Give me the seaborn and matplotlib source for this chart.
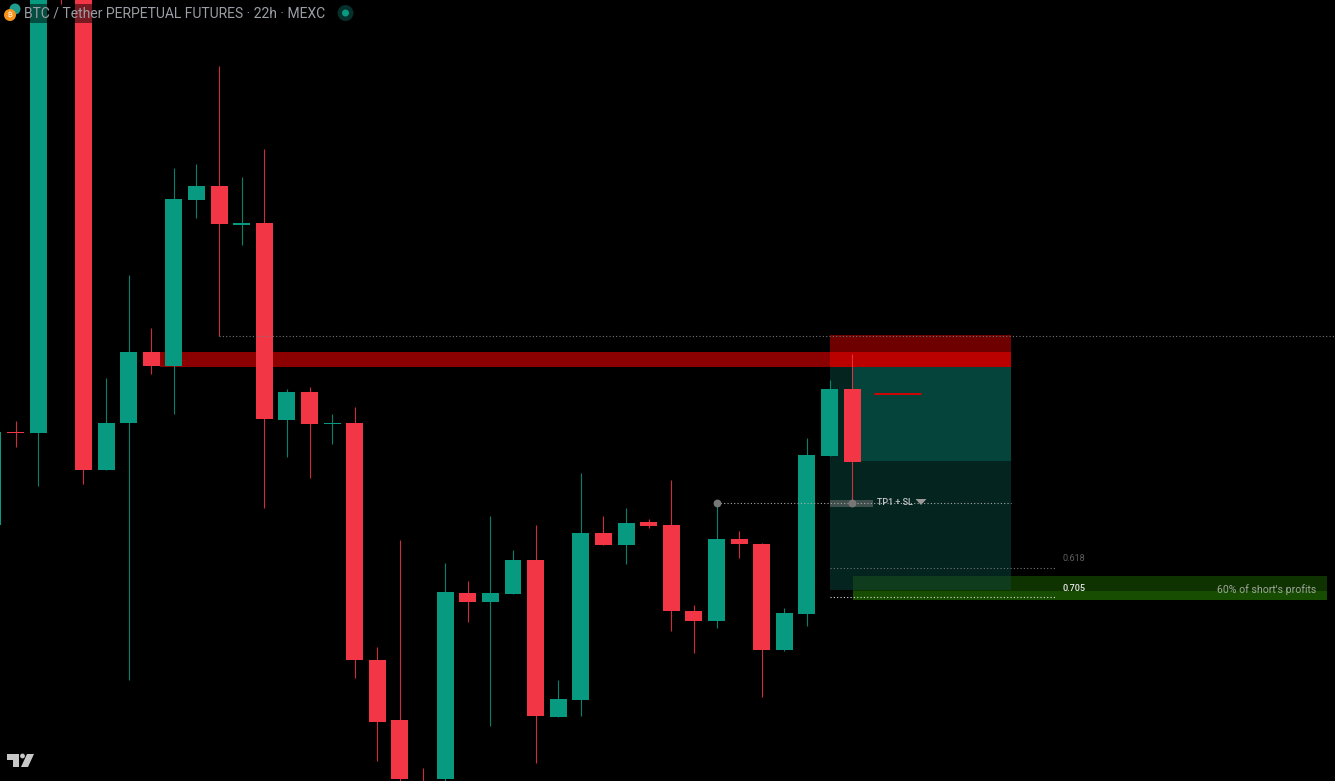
import matplotlib
matplotlib.use("Agg")
import matplotlib.pyplot as plt
from matplotlib.patches import Circle, Polygon, Rectangle
import seaborn as sns
import numpy as np
import pandas as pd

sns.set_style("dark")
plt.rcParams['font.family'] = ['Roboto', 'DejaVu Sans']

TEAL = "#089981"
RED = "#f23645"

# candles, price level given as chart rows (bigger = lower price)
bar_index = list(range(-2, 37))
body_top = [432, 432, -50, -200, -50, 423, 352, 352, 199, 186, 186, 223, 223, 392, 392, 423, 423, 660, 720, 790,
            592, 593, 593, 560, 560, 699, 533, 533, 523, 522, 525, 611, 539, 539, 544, 613, 455, 389, 389]
body_bot = [525, 433, 433, -100, 470, 470, 423, 366, 366, 200, 224, 225, 419, 420, 424, 424, 660, 722, 779, 900,
            779, 602, 602, 594, 716, 717, 700, 545, 545, 526, 611, 621, 621, 544, 650, 650, 614, 456, 462]
wick_hi = [432, 421, -60, -300, -60, 378, 275, 328, 168, 164, 66, 177, 149, 389, 387, 414, 407, 647, 540, 768,
           563, 581, 516, 550, 525, 680, 473, 516, 508, 519, 480, 605, 503, 531, 543, 608, 438, 380, 354]
wick_lo = [525, 447, 486, 5, 484, 470, 680, 374, 414, 218, 336, 245, 508, 457, 478, 444, 678, 761, 800, 950,
           800, 622, 726, 594, 763, 717, 716, 545, 564, 528, 631, 653, 628, 558, 697, 651, 626, 456, 503]
is_up = [1, 0, 1, 0, 0, 1, 1, 0, 1, 1, 0, 1, 0, 1, 0, 1, 0, 0, 0, 0,
         1, 0, 1, 1, 0, 1, 1, 0, 1, 0, 0, 0, 1, 0, 0, 1, 1, 1, 0]

level_labels = ["0.618", "0.705"]
level_rows = [568, 597]

df = pd.DataFrame({'bar': bar_index, 'top': body_top, 'bot': body_bot,
                   'hi': wick_hi, 'lo': wick_lo, 'up': is_up})
df['height'] = df['bot'] - df['top']


# drawings sit at screen pixels, candles at bar numbers
def px(x):
    return (x - 38.2) / 22.61


fig, ax = plt.subplots(figsize=(13.35, 7.81), dpi=100, facecolor="black")
ax.set_position([0, 0, 1, 1])
ax.set_facecolor("black")


def box(x0, x1, y0, y1, color, z=1):
    ax.add_patch(Rectangle((px(x0), y0), px(x1) - px(x0), y1 - y0, fc=color, ec="none", zorder=z))


# zones behind the candles
box(160, 830, 352, 367, "#8b0000")
box(830, 1011, 335, 352, "#6e0000")
box(830, 1011, 352, 367, "#bb0000")
box(830, 1011, 367, 590, "#03241f")
box(852, 1011, 367, 461, "#04443a")
box(853, 1327, 576, 591, "#0e3200")
box(853, 1327, 591, 600, "#164d00")
box(853, 1011, 576, 590, "#0e3c1c")

# wicks then bodies
for up, color in [(1, TEAL), (0, RED)]:
    part = df[df['up'] == up]
    ax.vlines(part['bar'], part['hi'], part['lo'], color=color, lw=0.8, alpha=0.85, zorder=2)
    sns.barplot(data=part, x='bar', y='height', bottom=part['top'].values, native_scale=True,
                color=color, saturation=1, width=0.75, errorbar=None, ax=ax,
                linewidth=0, zorder=3)

ax.set_xlim(px(0), px(1335))
ax.set_ylim(781, 0)
ax.axis("off")

# dotted guide lines
ax.plot([px(219), px(1335)], [336, 336], color="#777777", lw=0.8, ls=(0, (1, 2)), zorder=4)
ax.plot([px(717), px(1011)], [503, 503], color="#aaaaaa", lw=0.8, ls=(0, (1, 2)), zorder=4)
ax.plot([px(830), px(1056)], [level_rows[0]] * 2, color="#777777", lw=0.8, ls=(0, (1, 2)), zorder=4)
ax.plot([px(830), px(1056)], [level_rows[1]] * 2, color="#dddddd", lw=0.8, ls=(0, (1, 2)), zorder=4)

# TP1 marker
ax.plot([px(875), px(921)], [394, 394], color="#e00000", lw=1.3, zorder=4)
box(830, 873, 500, 507, "#3f4f4c", z=2.5)
ax.scatter([px(717), px(852)], [503, 503], s=32, color="#777777", linewidths=0, zorder=5)
ax.text(px(877), 502.5, "TP1 + SL", color="#c4c4c4", fontsize=6.5, va="center", zorder=6, fontweight="medium")
ax.add_patch(Polygon([(px(915.5), 499), (px(926.5), 499), (px(921), 505)], fc="#9a9a9a", ec="none", zorder=6))

# fib + zone text
ax.text(px(1062.5), 558.5, level_labels[0], color="#5f5f5f", fontsize=6.5, va="center", zorder=6)
ax.text(px(1062.5), 588.5, level_labels[1], color="#e8e8e8", fontsize=6.5, va="center", zorder=6, fontweight="medium")
ax.text(px(1316), 589.5, "60% of short's profits", color="#9da79a", fontsize=7.6, ha="right", va="center", zorder=6)

# header strip, dims the candles under it
ax.add_patch(Rectangle((px(24), 4), px(330) - px(24), 19, fc="black", alpha=0.5, ec="none", zorder=7))
ax.text(px(24), 13, "BTC / Tether PERPETUAL FUTURES · 22h · MEXC", color="#9b9ea6",
        fontsize=9.97, va="center", zorder=8)


# round icons, in pixels so they stay round
def dot(x, y, r, color, z=8):
    fig.add_artist(Circle((x, 781 - y), r, fc=color, ec="none", zorder=z,
                          transform=matplotlib.transforms.IdentityTransform()))


dot(15, 9, 5.5, "#1f9d8f")
dot(10, 15, 6, "#f7931a", z=9)
fig.text(10 / 1335, 1 - 15 / 781, "₿", color="white", fontsize=5.5, ha="center", va="center",
         family=["Inter", "Noto Sans", "Open Sans", "Lato", "Liberation Sans", "DejaVu Sans"], zorder=10)
dot(345.5, 13, 8, "#06302b")
dot(345.5, 13, 3.5, "#089981", z=9)

# logo
logo = "#c8c8c8"
ax.add_patch(Polygon([(px(7), 754), (px(19), 754), (px(19), 767), (px(13), 767), (px(13), 760), (px(7), 760)],
                     fc=logo, ec="none", zorder=8))
ax.add_patch(Polygon([(px(27), 754), (px(34), 754), (px(28), 767), (px(21), 767)], fc=logo, ec="none", zorder=8))
dot(22.5, 756, 2.4, logo)

plt.savefig("out.png", dpi=100, facecolor="black")
